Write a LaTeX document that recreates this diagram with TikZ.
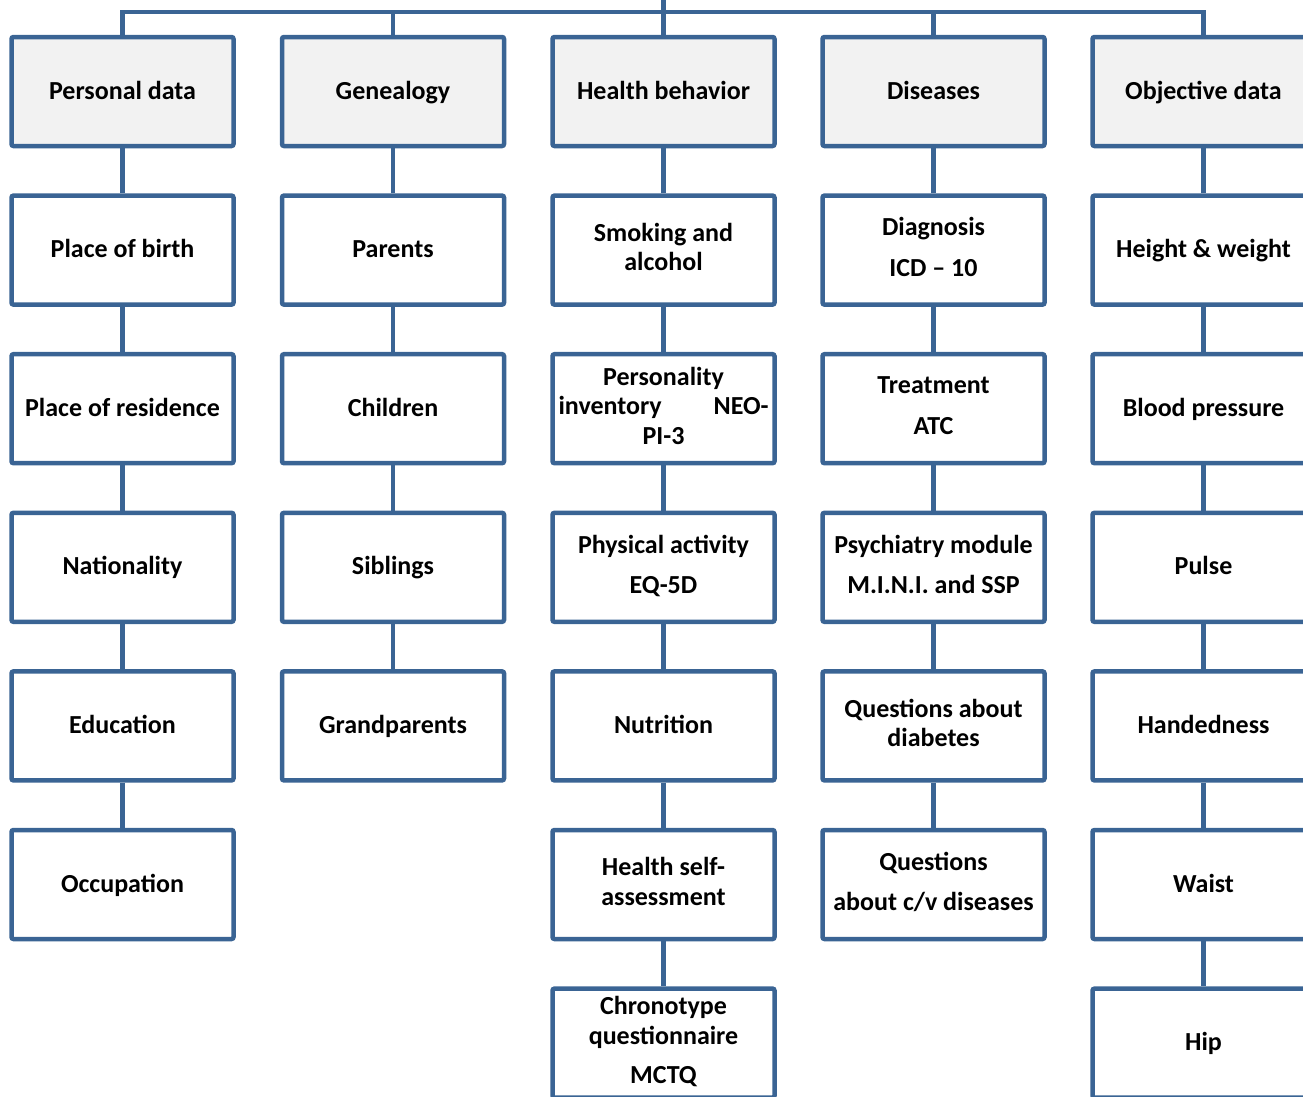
\documentclass[tikz,border=0pt]{standalone}
\usepackage{fontspec}
\setmainfont{Carlito}
\definecolor{bblue}{HTML}{3A6494}
\definecolor{hgray}{HTML}{F2F2F2}
\newcommand{\mystrut}{\rule[-6pt]{0pt}{27pt}}
\begin{document}
\begin{tikzpicture}[x=1pt,y=-1pt,
  box/.style={draw=bblue,line width=4.5pt,fill=white,rounded corners=2pt,
    minimum width=222pt,minimum height=109pt,inner sep=0pt,align=center,
    font=\fontsize{26}{29.5}\selectfont\bfseries,
    execute at begin node=\mystrut, execute at end node=\mystrut},
  headbox/.style={box,fill=hgray},
  conn/.style={draw=bblue,line width=4.5pt}]
\useasboundingbox (0,0) rectangle (1303,1096);
\def\cA{122.5}\def\cB{393}\def\cC{663.5}\def\cD{933.5}\def\cE{1203.5}
\def\rA{91.5}\def\rB{250.1}\def\rC{408.7}\def\rD{567.3}\def\rE{725.9}\def\rF{884.5}\def\rG{1043.1}
% column 1
\node[headbox] (p1) at (\cA,\rA) {Personal data};
\node[box] (p2) at (\cA,\rB) {Place of birth};
\node[box] (p3) at (\cA,\rC) {Place of residence};
\node[box] (p4) at (\cA,\rD) {Nationality};
\node[box] (p5) at (\cA,\rE) {Education};
\node[box] (p6) at (\cA,\rF) {Occupation};
% column 2
\node[headbox] (g1) at (\cB,\rA) {Genealogy};
\node[box] (g2) at (\cB,\rB) {Parents};
\node[box] (g3) at (\cB,\rC) {Children};
\node[box] (g4) at (\cB,\rD) {Siblings};
\node[box] (g5) at (\cB,\rE) {Grandparents};
% column 3
\node[headbox] (h1) at (\cC,\rA) {Health behavior};
\node[box] (h2) at (\cC,\rB) {Smoking and\\alcohol};
\node[box] (h3) at (\cC,\rC) {Personality\\\makebox[210pt]{inventory\hfill NEO-}\\PI-3};
\node[box] (h4) at (\cC,\rD) {Physical activity\\[11pt]EQ-5D};
\node[box] (h5) at (\cC,\rE) {Nutrition};
\node[box] (h6) at (\cC,\rF) {Health self-\\assessment};
\node[box] (h7) at (\cC,\rG) {Chronotype\\questionnaire\\[10pt]MCTQ};
% column 4
\node[headbox] (d1) at (\cD,\rA) {Diseases};
\node[box] (d2) at (\cD,\rB) {Diagnosis\\[11pt]ICD – 10};
\node[box] (d3) at (\cD,\rC) {Treatment\\[11pt]ATC};
\node[box] (d4) at (\cD,\rD) {Psychiatry module\\[11pt]M.I.N.I. and SSP};
\node[box] (d5) at (\cD,\rE) {Questions about\\diabetes};
\node[box] (d6) at (\cD,\rF) {Questions\\[11pt]about c/v diseases};
% column 5
\node[headbox] (o1) at (\cE,\rA) {Objective data};
\node[box] (o2) at (\cE,\rB) {Height \& weight};
\node[box] (o3) at (\cE,\rC) {Blood pressure};
\node[box] (o4) at (\cE,\rD) {Pulse};
\node[box] (o5) at (\cE,\rE) {Handedness};
\node[box] (o6) at (\cE,\rF) {Waist};
\node[box] (o7) at (\cE,\rG) {Hip};
% bus
\coordinate (bus) at (\cC,12);
\coordinate (root) at (\cC,-3);
\draw[conn] (root) -- (bus);
\draw[conn] (p1.north) |- (bus) -| (o1.north);
\draw[conn] (g1.north) -- (g1.north |- bus);
\draw[conn] (h1.north) -- (bus);
\draw[conn] (d1.north) -- (d1.north |- bus);
% vertical connectors
\foreach \a/\b in {p1/p2,p2/p3,p3/p4,p4/p5,p5/p6,
  g1/g2,g2/g3,g3/g4,g4/g5,
  h1/h2,h2/h3,h3/h4,h4/h5,h5/h6,h6/h7,
  d1/d2,d2/d3,d3/d4,d4/d5,d5/d6,
  o1/o2,o2/o3,o3/o4,o4/o5,o5/o6,o6/o7}
  \draw[conn] (\a.south) -- (\b.north);
\end{tikzpicture}
\end{document}
